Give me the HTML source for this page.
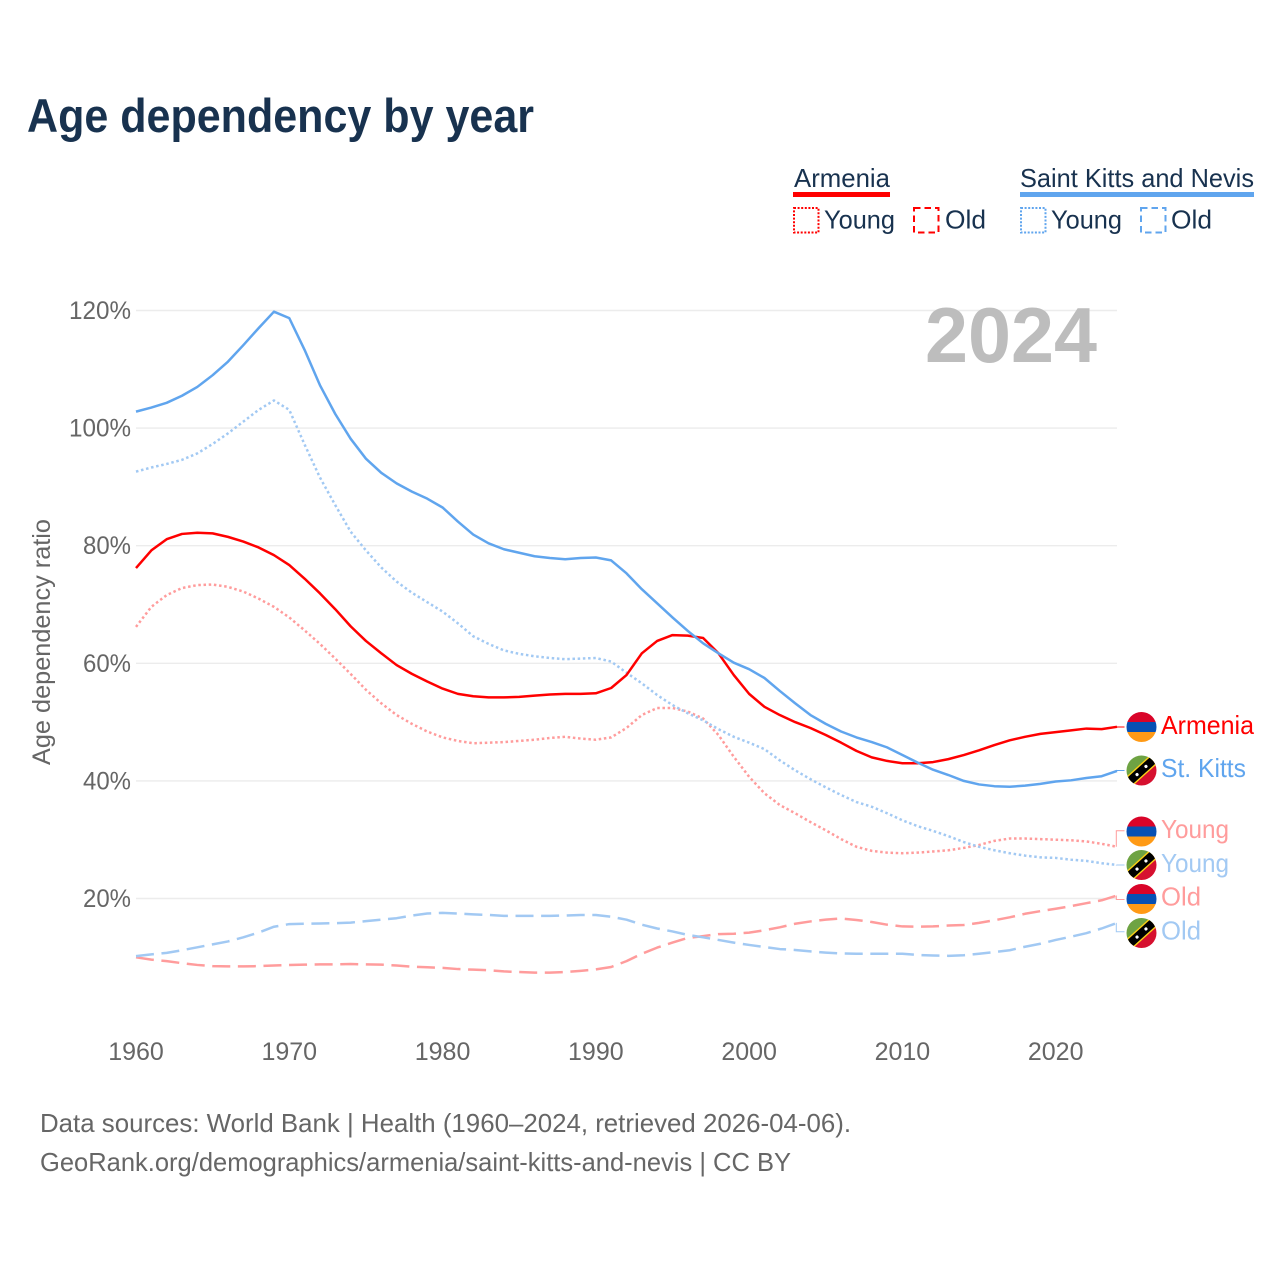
<!DOCTYPE html>
<html lang="en">
<head>
<meta charset="utf-8">
<title>Age dependency by year</title>
<style>
html,body{margin:0;padding:0;background:#fff;}
body{width:1280px;height:1280px;overflow:hidden;}
svg{display:block;font-family:"Liberation Sans",sans-serif;}
</style>
</head>
<body>
<svg id="chart" xmlns="http://www.w3.org/2000/svg" width="1280" height="1280" viewBox="0 0 1280 1280">
  <defs>
    <clipPath id="flag-clip"><circle cx="0" cy="0" r="15"/></clipPath>
    <g id="flag-am">
      <g clip-path="url(#flag-clip)">
        <rect x="-15" y="-15" width="30" height="10" fill="#d90429"/>
        <rect x="-15" y="-5" width="30" height="10.5" fill="#0750b4"/>
        <rect x="-15" y="5" width="30" height="10" fill="#ff9a16"/>
      </g>
    </g>
    <g id="flag-kn">
      <g clip-path="url(#flag-clip)">
        <g transform="rotate(-42)">
          <rect x="-22" y="-22" width="44" height="22" fill="#6ea343"/>
          <rect x="-22" y="0" width="44" height="22" fill="#d6102f"/>
          <rect x="-22" y="-5.6" width="44" height="11.2" fill="#fcd116"/>
          <rect x="-22" y="-4.2" width="44" height="8.4" fill="#000"/>
          <circle cx="-6" cy="0" r="1.6" fill="#fff"/>
          <circle cx="6" cy="0" r="1.6" fill="#fff"/>
        </g>
      </g>
    </g>
  </defs>

  <text x="27" y="132" font-size="47" font-weight="700" fill="#18324f" textLength="507" lengthAdjust="spacingAndGlyphs">Age dependency by year</text>

  <g font-size="26" fill="#18324f">
    <text x="794" y="187" textLength="96" lengthAdjust="spacingAndGlyphs">Armenia</text>
    <rect x="793" y="192" width="97" height="5" fill="#ff0000"/>
    <rect x="794" y="208" width="24.5" height="24.5" fill="none" stroke="#ff0000" stroke-width="2" stroke-dasharray="2 1.6"/>
    <text x="824" y="228.5" textLength="71" lengthAdjust="spacingAndGlyphs">Young</text>
    <rect x="914" y="208" width="24.5" height="24.5" fill="none" stroke="#ff0000" stroke-width="2" stroke-dasharray="6.5 4"/>
    <text x="945" y="228.5" textLength="41" lengthAdjust="spacingAndGlyphs">Old</text>

    <text x="1020" y="187" textLength="234" lengthAdjust="spacingAndGlyphs">Saint Kitts and Nevis</text>
    <rect x="1020" y="192" width="234" height="5" fill="#60a5ee"/>
    <rect x="1021" y="208" width="24.5" height="24.5" fill="none" stroke="#60a5ee" stroke-width="2" stroke-dasharray="2 1.6"/>
    <text x="1051" y="228.5" textLength="71" lengthAdjust="spacingAndGlyphs">Young</text>
    <rect x="1141" y="208" width="24.5" height="24.5" fill="none" stroke="#60a5ee" stroke-width="2" stroke-dasharray="6.5 4"/>
    <text x="1171" y="228.5" textLength="41" lengthAdjust="spacingAndGlyphs">Old</text>
  </g>

  <g id="grid"></g>
  <g id="yticks"></g>
  <g id="xticks"></g>

  <text transform="translate(50,642) rotate(-90)" text-anchor="middle" font-size="25" fill="#666" textLength="246" lengthAdjust="spacingAndGlyphs">Age dependency ratio</text>

  <text x="925" y="362" font-size="78" font-weight="700" fill="#bdbdbd" textLength="172" lengthAdjust="spacingAndGlyphs">2024</text>

  <g id="series"></g>
  <g id="connectors"></g>

  <g font-size="26">
    <use href="#flag-am" x="1141.5" y="727"/>
    <text x="1161" y="734" fill="#ff0000" textLength="93" lengthAdjust="spacingAndGlyphs">Armenia</text>
    <use href="#flag-kn" x="1141.5" y="770.5"/>
    <text x="1161" y="777" fill="#60a5ee" textLength="85" lengthAdjust="spacingAndGlyphs">St. Kitts</text>
    <use href="#flag-am" x="1141.5" y="831.5"/>
    <text x="1161" y="838" fill="#ff9c9c" textLength="68" lengthAdjust="spacingAndGlyphs">Young</text>
    <use href="#flag-kn" x="1141.5" y="865"/>
    <text x="1161" y="872" fill="#a2c9f3" textLength="68" lengthAdjust="spacingAndGlyphs">Young</text>
    <use href="#flag-am" x="1141.5" y="899"/>
    <text x="1161" y="905.5" fill="#ff9c9c" textLength="40" lengthAdjust="spacingAndGlyphs">Old</text>
    <use href="#flag-kn" x="1141.5" y="933"/>
    <text x="1161" y="939.5" fill="#a2c9f3" textLength="40" lengthAdjust="spacingAndGlyphs">Old</text>
  </g>

  <g font-size="26" fill="#666">
    <text x="40" y="1132" textLength="811" lengthAdjust="spacingAndGlyphs">Data sources: World Bank | Health (1960–2024, retrieved 2026-04-06).</text>
    <text x="40" y="1171" textLength="751" lengthAdjust="spacingAndGlyphs">GeoRank.org/demographics/armenia/saint-kitts-and-nevis | CC BY</text>
  </g>
</svg>

<script>
const firstYear = 1960;
const xTickYears = [1960, 1970, 1980, 1990, 2000, 2010, 2020];
const yTickValues = [20, 40, 60, 80, 100, 120];

const armeniaTotal = [76.2,79.2,81.1,82.0,82.2,82.1,81.5,80.7,79.7,78.4,76.7,74.4,71.9,69.2,66.3,63.8,61.7,59.7,58.2,56.9,55.7,54.8,54.4,54.2,54.2,54.3,54.5,54.7,54.8,54.8,54.9,55.8,58.0,61.7,63.8,64.8,64.7,64.3,61.7,58.0,54.8,52.6,51.2,50.0,49.0,47.8,46.5,45.1,44.0,43.4,43.0,43.0,43.2,43.7,44.4,45.2,46.1,46.9,47.5,48.0,48.3,48.6,48.9,48.8,49.2];
const stKittsTotal = [102.8,103.5,104.3,105.5,107.0,109.0,111.3,114.1,117.0,119.8,118.7,113.3,107.3,102.4,98.2,94.8,92.4,90.6,89.2,88.0,86.5,84.1,81.9,80.4,79.4,78.8,78.2,77.9,77.7,77.9,78.0,77.5,75.3,72.6,70.2,67.8,65.5,63.4,61.7,60.1,59.0,57.5,55.3,53.2,51.2,49.7,48.4,47.4,46.6,45.7,44.4,43.1,41.9,41.0,40.0,39.4,39.1,39.0,39.2,39.5,39.9,40.1,40.5,40.8,41.7];
const armeniaYoung = [66.2,69.6,71.6,72.8,73.3,73.4,73.0,72.2,71.0,69.6,67.8,65.6,63.3,60.8,58.2,55.5,53.2,51.2,49.7,48.4,47.4,46.8,46.4,46.5,46.6,46.8,47.0,47.3,47.5,47.2,47.0,47.4,49.0,51.2,52.4,52.4,51.8,50.6,47.8,44.1,40.7,37.9,35.9,34.5,33.0,31.6,30.1,28.8,28.1,27.8,27.7,27.8,28.0,28.2,28.6,29.1,29.8,30.2,30.2,30.1,30.0,29.9,29.7,29.3,28.8];
const stKittsYoung = [92.6,93.3,93.9,94.6,95.7,97.3,99.1,101.1,103.1,104.7,103.1,97.2,91.6,86.9,82.4,79.2,76.3,73.9,72.0,70.4,68.8,66.8,64.6,63.3,62.2,61.6,61.2,60.9,60.7,60.8,60.9,60.3,58.4,56.6,54.6,52.9,51.5,50.3,48.8,47.5,46.5,45.4,43.5,41.8,40.3,38.9,37.6,36.4,35.6,34.5,33.3,32.3,31.5,30.6,29.6,28.8,28.2,27.7,27.3,27.0,26.9,26.6,26.4,26.0,25.7];
const armeniaOld = [10.0,9.6,9.35,9.0,8.7,8.5,8.45,8.45,8.5,8.6,8.7,8.75,8.8,8.8,8.85,8.8,8.75,8.6,8.4,8.3,8.2,8.0,7.9,7.8,7.6,7.5,7.4,7.4,7.5,7.7,7.95,8.35,9.35,10.6,11.65,12.5,13.3,13.6,13.95,14.0,14.2,14.6,15.1,15.7,16.1,16.4,16.6,16.35,16.0,15.55,15.25,15.2,15.25,15.4,15.5,15.85,16.3,16.8,17.4,17.85,18.25,18.7,19.2,19.7,20.5];
const stKittsOld = [10.2,10.5,10.75,11.2,11.7,12.2,12.7,13.4,14.2,15.2,15.65,15.7,15.75,15.8,15.9,16.15,16.4,16.65,17.1,17.45,17.55,17.45,17.3,17.2,17.05,17.05,17.05,17.05,17.1,17.2,17.2,16.9,16.4,15.55,14.9,14.4,13.8,13.4,12.95,12.5,12.1,11.75,11.4,11.25,11.0,10.8,10.65,10.6,10.6,10.6,10.6,10.4,10.3,10.25,10.35,10.6,10.9,11.2,11.8,12.3,12.95,13.5,14.1,14.9,15.85];

const SVG_NS = 'http://www.w3.org/2000/svg';
const xScale = function (year) { return 136 + (year - 1960) * (1117 - 136) / 64; };
const yScale = function (value) { return 1016.1 - value * 5.88; };

function svgEl(tag, parentId) {
  const el = document.createElementNS(SVG_NS, tag);
  document.getElementById(parentId).appendChild(el);
  return el;
}

yTickValues.forEach(function (value) {
  const line = svgEl('line', 'grid');
  
  
  line.setAttribute('x1', xScale(1960));
  line.setAttribute('x2', xScale(2024));
  line.setAttribute('y1', yScale(value));
  line.setAttribute('y2', yScale(value));
  line.setAttribute('stroke', '#ececec');
  line.setAttribute('stroke-width', '1.4');

  const label = svgEl('text', 'yticks');
  
  
  label.setAttribute('x', 131);
  label.setAttribute('y', yScale(value) + 8.5);
  label.setAttribute('text-anchor', 'end');
  label.setAttribute('font-size', '25');
  label.setAttribute('fill', '#666');
  label.setAttribute('textLength', value >= 100 ? '62' : '48');
  label.setAttribute('lengthAdjust', 'spacingAndGlyphs');
  label.textContent = value + '%';
});

xTickYears.forEach(function (year) {
  const label = svgEl('text', 'xticks');
  
  
  label.setAttribute('x', xScale(year));
  label.setAttribute('y', 1060);
  label.setAttribute('text-anchor', 'middle');
  label.setAttribute('font-size', '25');
  label.setAttribute('fill', '#666');
  label.textContent = String(year);
});

function drawSeries(name, values, color, dash) {
  const path = svgEl('path', 'series');
  
  
  const d = values.map(function (v, i) {
    return (i ? 'L' : 'M') + xScale(firstYear + i).toFixed(2) + ' ' + yScale(v).toFixed(2);
  }).join('');
  path.setAttribute('d', d);
  path.setAttribute('fill', 'none');
  path.setAttribute('stroke', color);
  path.setAttribute('stroke-width', '2.5');
  path.setAttribute('stroke-linejoin', 'round');
  if (dash) path.setAttribute('stroke-dasharray', dash);
}

function drawConnector(name, values, slotY, color) {
  const conn = svgEl('path', 'connectors');
  
  
  const endX = xScale(firstYear + values.length - 1) - 0.7;
  conn.setAttribute('d', 'M' + endX + ' ' + yScale(values[values.length - 1]).toFixed(2) + 'V' + slotY + 'H1124.5');
  conn.setAttribute('fill', 'none');
  conn.setAttribute('stroke', color);
  conn.setAttribute('stroke-width', '1');
}

const DOTTED = '2.5 2.7';
const DASHED = '18 7.6';

drawSeries('armenia-old-line', armeniaOld, '#ff9c9c', DASHED);
drawSeries('saint-kitts-old-line', stKittsOld, '#a2c9f3', DASHED);
drawSeries('armenia-young-line', armeniaYoung, '#ff9c9c', DOTTED);
drawSeries('saint-kitts-young-line', stKittsYoung, '#a2c9f3', DOTTED);
drawSeries('armenia-total-line', armeniaTotal, '#ff0000', null);
drawSeries('saint-kitts-total-line', stKittsTotal, '#60a5ee', null);

drawConnector('armenia-total-connector', armeniaTotal, 727, '#ff0000');
drawConnector('saint-kitts-total-connector', stKittsTotal, 770.5, '#60a5ee');
drawConnector('armenia-young-connector', armeniaYoung, 830.7, '#ff9c9c');
drawConnector('saint-kitts-young-connector', stKittsYoung, 865, '#a2c9f3');
drawConnector('armenia-old-connector', armeniaOld, 899.5, '#ff9c9c');
drawConnector('saint-kitts-old-connector', stKittsOld, 931.8, '#a2c9f3');
</script>
</body>
</html>
